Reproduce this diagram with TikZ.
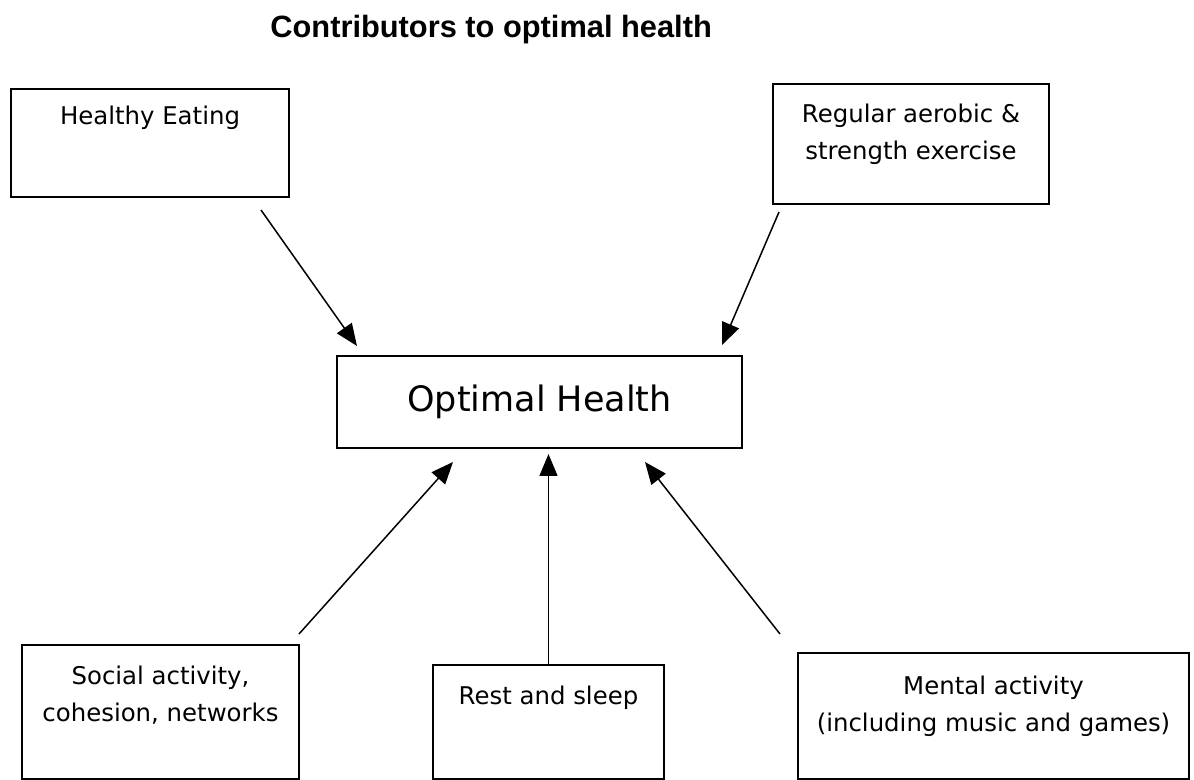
\documentclass[tikz,border=0pt]{standalone}
\usepackage{fontspec}
\setmainfont{DejaVu Sans}
\newfontfamily\titlefont{Liberation Sans}
\usetikzlibrary{arrows.meta, positioning}

\begin{document}
\begin{tikzpicture}[x=0.5pt, y=-0.5pt,
box/.style={draw, line width=1pt, inner sep=0pt},
txt/.style={inner sep=0pt, align=center, font=\fontsize{12.2}{18.5}\selectfont},
arr/.style={line width=0.75pt, -{Triangle[length=11pt, width=9pt]}}]
\useasboundingbox (0, 0) rectangle (1194, 780);
\node [anchor=base west, inner sep=0pt, font=\titlefont\bfseries\fontsize{15.4}{18}\selectfont] (title) at (270, 38) {Contributors to optimal health};
\node [box, minimum width=139pt, minimum height=54pt] (eat) at (150, 143) {};
\node [txt, below=9pt of eat.north] (eattext) {Healthy Eating};
\node [box, minimum width=138pt, minimum height=60pt] (exercise) at (911, 144) {};
\node [txt, below=10.5pt of exercise.north] (exercisetext) {Regular aerobic \&\\strength exercise};
\node [box, minimum width=202.5pt, minimum height=46pt, font=\fontsize{17.5}{20}\selectfont] (health) at (539.5, 402) {Optimal Health};
\node [box, minimum width=138.5pt, minimum height=67pt] (social) at (160.5, 712) {};
\node [txt, below=11pt of social.north] (socialtext) {Social activity,\\cohesion, networks};
\node [box, minimum width=115.5pt, minimum height=57pt] (rest) at (548.5, 722) {};
\node [txt, below=11pt of rest.north] (resttext) {Rest and sleep};
\node [box, minimum width=195.5pt, minimum height=63pt] (mental) at (993.5, 716) {};
\node [txt, below=12pt of mental.north] (mentaltext) {Mental activity\\(including music and games)};
\coordinate (eatfrom) at (261, 210);
\coordinate (eatto) at (357, 346);
\coordinate (exercisefrom) at (779, 212);
\coordinate (exerciseto) at (722, 345);
\coordinate (socialfrom) at (299, 634);
\coordinate (socialto) at (453, 462);
\coordinate (restto) at (548.5, 454);
\coordinate (mentalfrom) at (780, 634);
\coordinate (mentalto) at (645, 462);
\draw [arr] (eatfrom) -- (eatto);
\draw [arr] (exercisefrom) -- (exerciseto);
\draw [arr] (socialfrom) -- (socialto);
\draw [arr] (rest.north) -- (restto);
\draw [arr] (mentalfrom) -- (mentalto);
\end{tikzpicture}
\end{document}
